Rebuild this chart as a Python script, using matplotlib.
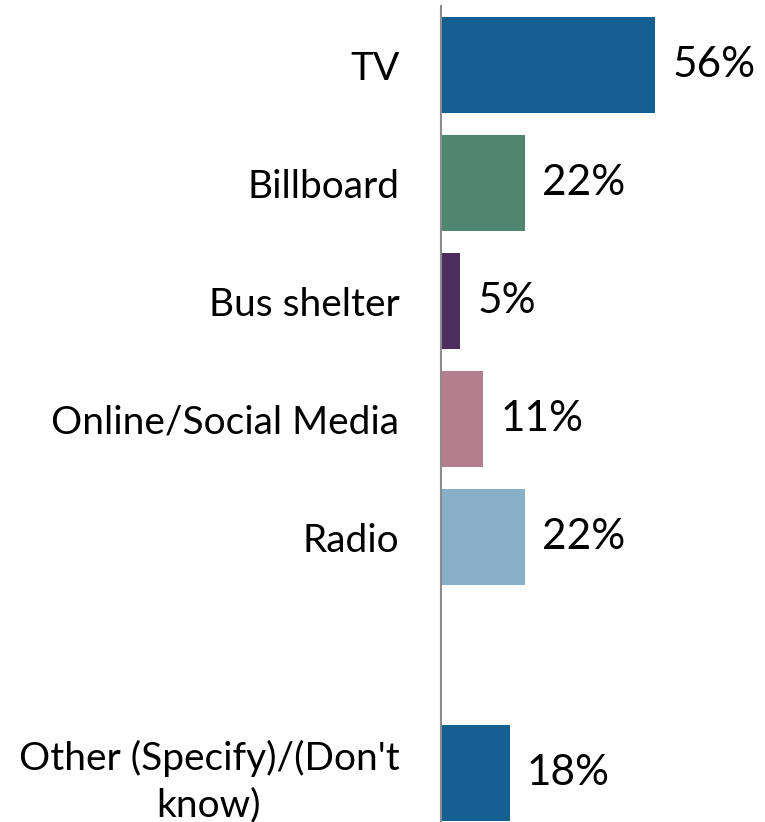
import numpy as np
import matplotlib.pyplot as plt

plt.rcParams['font.family'] = ['Lato', 'DejaVu Sans']

# channels, top to bottom; slot 5 is left empty
labels = ["TV", "Billboard", "Bus shelter", "Online/Social Media", "Radio",
          "Other (Specify)/(Don't\nknow)"]
values = [56, 22, 5, 11, 22, 18]
slots = [0, 1, 2, 3, 4, 6]
colors = ["#156090", "#508570", "#4B2D5E", "#B47E8F", "#8AAFC8", "#156090"]

fig = plt.figure(figsize=(7.65, 8.22), dpi=100)
ax = fig.add_axes([441/765, 0, 1 - 441/765, 1 - 6/822])

ax.barh(slots, values, height=0.81, color=colors)
for s, v in zip(slots, values):
    ax.text(v + 4.5, s, f"{v}%", va="center", ha="left", fontsize=30.5)

ax.set_xlim(0, 84.8)
ax.set_ylim(6.415, -0.5)
ax.set_yticks(slots)
ax.set_yticklabels(labels, fontsize=28)
for t in ax.get_yticklabels():
    t.set_multialignment("center")
    t.set_linespacing(1.35)
ax.tick_params(axis="y", length=0, pad=30)
ax.set_xticks([])
for side in ["top", "right", "bottom"]:
    ax.spines[side].set_visible(False)
ax.spines["left"].set_color("#8c8c8c")
ax.spines["left"].set_linewidth(1.5)

fig.savefig("out.png", dpi=100)
